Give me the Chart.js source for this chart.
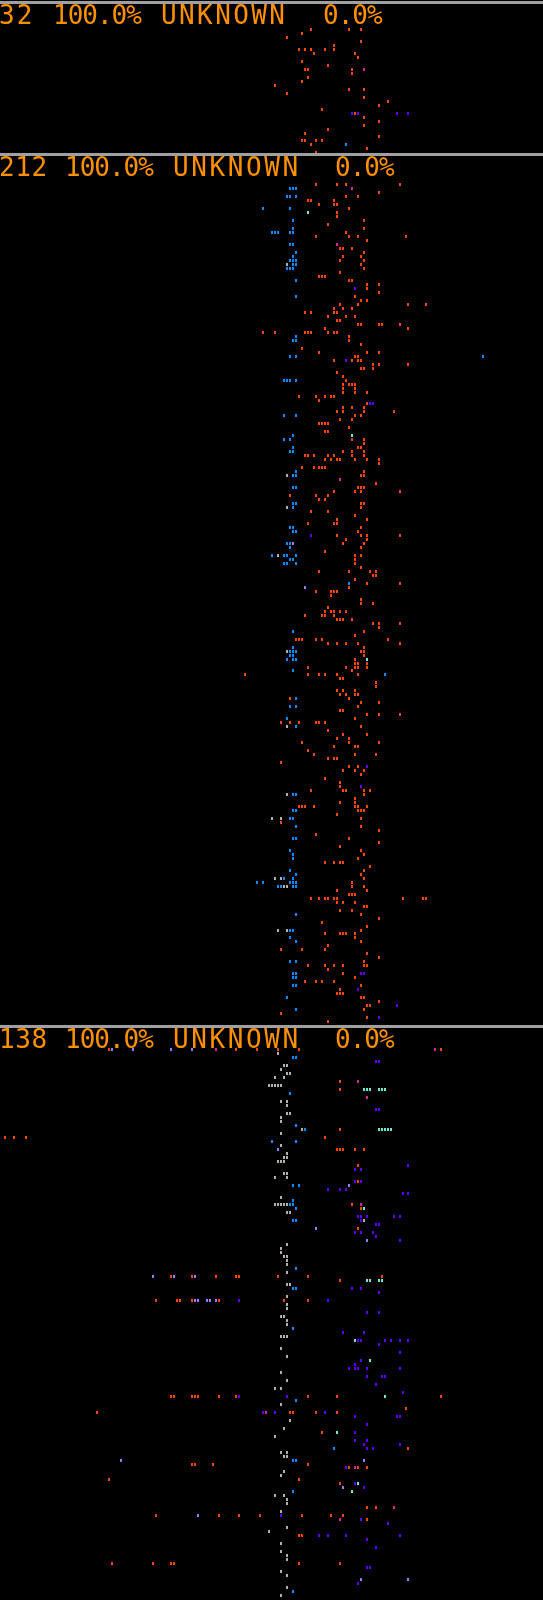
<!DOCTYPE html>
<html>
<head>
<meta charset="utf-8">
<script src="https://cdn.jsdelivr.net/npm/chart.js@4.4.1/dist/chart.umd.min.js"></script>
<style>
  html, body { margin: 0; padding: 0; background: #000; }
  #wrap { position: relative; width: 543px; height: 1600px; overflow: hidden; background: #000; }
  #dots { position: absolute; left: 0; top: 0; }
  .rule { position: absolute; left: 0; width: 543px; height: 3px; background: #a0a0a0; }
  .hdr { position: absolute; font-family: "DejaVu Sans Mono", monospace; font-size: 26px;
         line-height: 26px; color: #ff9100; white-space: pre; }
</style>
</head>
<body>
<div id="wrap">
  <canvas id="dots" width="543" height="1600"></canvas>
</div>
<script>
// grid: one cell = 3px wide, 4px tall; every dot is [column, row]
const panelRows = [0, 38, 256];          // rows holding the gray separator lines
const panelCounts = ["32", "212", "138"];
const panelShares = ["100.0%", "100.0%", "100.0%"];
const panelLabels = ["UNKNOWN", "UNKNOWN", "UNKNOWN"];
const panelRest = ["0.0%", "0.0%", "0.0%"];

const orangeDots = [
  // panel 1
  [103,6],[116,6],[120,6],[100,7],[95,8],[120,9],[111,10],[99,11],[101,11],[103,11],[108,11],[111,11],
  [104,12],[118,12],[119,13],[100,14],[109,15],[101,16],[102,16],[117,16],[117,17],[102,18],[100,19],
  [91,20],[116,21],[121,21],[95,22],[121,23],[129,24],[126,25],[107,26],[118,27],[121,28],[126,29],
  [121,30],[109,31],[101,32],[126,33],[100,34],[101,34],[105,34],[107,34],[103,35],[122,36],[105,37],
  // panel 2
  [105,45],[112,45],[115,45],[133,45],[126,47],[115,48],[119,48],[102,49],[103,49],[111,49],[106,50],
  [111,50],[112,50],[116,51],[112,52],[112,53],[121,54],[109,55],[121,56],[115,57],[105,58],[116,58],
  [119,58],[135,58],[122,59],[113,61],[114,61],[117,61],[121,62],[114,63],[120,63],[113,64],[121,64],
  [120,65],[121,66],[113,67],[106,68],[107,68],[108,68],[116,69],[117,69],[122,70],[126,70],[122,71],
  [126,72],[118,73],[120,74],[122,74],[113,75],[119,75],[136,75],[142,75],[111,76],[114,76],[117,76],
  [101,77],[103,77],[111,77],[112,77],[109,78],[115,78],[118,78],[112,79],[113,79],[119,80],[120,80],
  [126,80],[127,80],[133,80],[108,81],[136,81],[87,82],[91,82],[101,82],[102,82],[103,82],[109,82],
  [111,82],[112,82],[116,83],[116,84],[120,85],
  [100,86],[106,87],[122,87],[126,87],[118,88],[119,88],[111,89],[117,89],[119,89],[120,89],[124,90],
  [126,90],[136,90],[120,91],[121,91],[124,91],[112,92],[114,93],[115,94],[114,95],[116,95],[117,95],
  [118,95],[114,96],[118,96],[114,97],[118,97],[122,97],[99,98],[105,98],[108,98],[110,98],[111,98],
  [106,99],[122,100],[114,101],[117,101],[121,101],[112,102],[114,102],[121,102],[131,102],[118,103],
  [120,103],[113,104],[117,104],[106,105],[107,105],[108,105],[109,105],[116,106],[108,107],[109,107],
  [117,109],[121,109],[121,110],[119,111],[120,111],[114,112],[117,112],[121,112],
  [101,113],[102,113],[104,113],[109,113],[111,113],[117,113],[121,113],[108,114],[110,114],[112,114],
  [113,114],[118,114],[122,114],[126,114],[126,115],[100,116],[104,116],[106,116],[107,116],[108,116],
  [121,117],[120,118],[121,118],[125,120],[119,121],[120,121],[121,121],[111,122],[118,122],[120,122],
  [133,122],[96,123],[105,123],[109,123],[106,124],[108,124],[120,125],[121,125],[120,126],[103,127],
  [109,127],[118,128],[112,129],[122,129],[102,130],[111,130],[112,130],[120,131],[119,132],[112,133],
  [120,133],[122,133],[133,133],[115,134],[122,134],[114,135],[121,135],[120,136],[108,137],[118,138],
  [120,138],[118,139],[118,140],[120,141],[106,142],[116,142],[123,142],[125,142],[124,143],[125,143],
  [118,144],[122,145],[133,145],[116,146],[105,147],[110,147],[111,147],[112,147],[110,148],[120,149],
  [120,150],[124,150],[109,151],[108,152],[110,152],[111,152],[113,152],[115,152],[101,153],[107,153],
  [108,153],[111,153],[112,154],[113,154],[114,154],[117,154],[124,155],[126,155],[133,155],[126,156],
  [121,157],[118,158],[98,159],[99,159],[100,159],[105,159],[107,159],[129,159],[109,160],[112,160],
  [115,160],[119,160],[133,160],[121,161],[120,162],[121,162],[121,163],[118,164],[118,165],[119,165],
  [122,165],[102,166],[115,166],[118,166],[119,166],[122,166],[117,167],[81,168],[102,168],[106,168],
  [108,168],[112,168],[119,168],[113,169],[114,169],[125,170],[125,171],[112,172],[114,172],[118,172],
  [113,173],[115,173],[118,173],[119,173],[96,174],[116,174],[120,175],[126,175],[119,176],[113,177],
  [114,177],[122,178],[126,178],[133,178],[118,179],[93,180],[96,180],[99,180],[105,180],[106,180],
  [108,180],[120,181],[109,182],
  [114,183],[122,183],[112,184],[116,184],[100,185],[116,185],[126,185],[111,186],[118,186],[119,186],
  [102,187],[104,188],[118,188],[125,188],[109,189],[111,189],[112,189],[93,190],[116,191],[119,191],
  [114,192],[118,192],[121,192],[120,193],[108,194],[113,195],[113,196],[103,197],[114,197],[115,197],
  [121,197],[123,197],[121,198],[118,199],[113,200],[118,200],[99,201],[100,201],[101,201],[104,201],
  [118,201],[119,201],[122,201],[119,202],[120,202],[121,202],[112,203],[120,204],[93,205],[120,206],
  [126,207],[105,208],[116,209],[126,210],[113,211],[120,212],[121,213],[119,214],[108,215],[111,215],
  [113,215],[114,215],[123,216],[121,217],[120,218],[121,219],[117,220],[117,221],[121,221],[112,222],
  [122,222],[116,223],[117,223],[118,223],[103,224],[106,224],[108,224],[109,224],[111,224],[112,224],
  [134,224],[141,224],[142,224],[112,225],[114,225],[118,225],[121,226],[122,226],[113,227],[117,227],
  [120,228],[126,229],[107,230],[122,231],[120,232],[108,233],[113,233],[114,233],[115,233],[118,233],
  [118,234],[120,235],[109,236],[93,237],[100,237],[108,237],[122,238],[126,239],[121,240],[102,241],
  [108,241],[111,241],[114,241],[121,241],[122,241],[109,242],[114,243],[118,244],[101,245],[105,245],
  [107,245],[111,245],[120,246],[113,247],[112,248],[113,248],[114,248],[120,249],[121,249],[126,250],
  [122,251],[123,251],[121,252],[93,253],[122,254],[109,255],
  // panel 3
  [35,262],[78,262],[85,262],[92,262],[99,262],[147,262],[113,270],[113,272],[113,282],[0,284],[3,284],
  [7,284],[108,284],[112,287],[113,287],[114,287],[118,287],[121,287],[119,291],[119,295],[117,301],
  [120,302],[119,307],[56,319],[63,319],[71,319],[78,319],[79,319],[92,319],[102,319],[127,319],
  [113,320],[51,325],[58,325],[59,325],[63,325],[72,325],[94,325],[102,325],[56,349],[57,349],[63,349],
  [64,349],[65,349],[72,349],[78,349],[102,349],[112,349],[147,349],[135,352],[31,353],[96,353],
  [97,353],[105,353],[112,353],[107,358],[136,362],[63,366],[64,366],[70,366],[102,366],[116,367],
  [119,367],[122,367],[35,370],[99,370],[113,371],[122,377],[125,377],[51,379],[72,379],[79,379],
  [86,379],[100,379],[110,379],[114,379],[122,380],[99,384],[100,384],[36,391],[50,391],[56,391],
  [57,391],[99,391],[113,391]
];

const blueDots = [
  [115,35],
  [96,46],[97,46],[98,46],[95,48],[96,48],[98,48],[87,51],[96,51],[97,54],[97,56],[90,57],[91,57],
  [92,57],[96,57],[97,57],[96,60],[97,60],[98,62],[97,63],[96,64],[97,64],[98,64],[97,65],[98,65],
  [95,66],[96,66],[97,66],[98,69],[98,73],[98,83],[97,84],[98,84],
  [96,88],[98,88],[161,88],[94,94],[95,94],[96,94],[98,94],[94,103],[98,103],[97,108],[94,109],
  [96,109],[97,111],[96,112],[97,112],
  [98,117],[97,118],[98,118],[97,121],[98,121],[97,125],[98,125],[97,126],[96,131],[97,131],[97,132],
  [98,132],[95,135],[96,135],[96,136],[90,138],[94,138],[95,138],[98,138],[96,139],[97,139],[94,140],
  [95,140],[98,140],[116,145],[97,157],[97,161],[96,162],[97,162],[98,162],[96,163],[97,163],[95,164],
  [97,164],[98,164],[97,167],[128,168],[98,174],[96,176],[98,176],[95,179],[98,181],
  [97,198],[98,198],[97,202],[98,202],[96,204],[97,204],[98,206],[97,209],[98,209],[96,212],[97,213],
  [97,214],[96,217],[98,218],[94,219],[97,219],[85,220],[87,220],[96,220],[97,220],[98,220],[92,221],
  [93,221],[97,221],[98,221],[98,228],[96,232],[97,232],[96,234],[98,235],[96,240],[98,240],[97,243],
  [98,243],[97,244],[98,244],[97,246],[98,246],[95,249],[98,252],
  [97,264],[98,264],[96,273],[98,281],[101,282],[90,285],[98,285],[97,296],[99,296],[97,300],[96,301],
  [97,301],[98,302],[97,305],[98,305],[98,317],[97,322],[98,322],[97,332],[98,350],[111,362],[97,365],
  [98,365],[97,373],[97,398]
];

const purpleDots = [
  [117,27],[119,27],[132,27],[136,27],[118,71],[115,89],[123,100],[124,100],[103,133],[122,191],
  [120,196],[120,243],[121,243],[119,247],[132,251],[126,254],
  [125,265],[126,265],[125,277],[126,277],[136,291],[118,292],[120,292],[118,295],[120,295],[109,297],
  [113,297],[115,297],[134,298],[136,298],[119,304],[120,304],[122,304],[131,304],[133,304],[120,305],
  [125,306],[126,306],[118,308],[120,308],[124,308],[125,309],[133,310],[117,322],[120,322],[126,323],
  [79,325],[109,325],[122,328],[126,328],[114,333],[121,333],[119,335],[120,335],[128,335],[130,335],
  [133,335],[136,335],[126,336],[133,338],[120,340],[118,341],[116,342],[118,342],[119,342],[122,342],
  [133,342],[122,344],[127,344],[128,344],[125,346],[134,348],[79,349],[95,349],[87,353],[91,353],
  [108,353],[118,354],[132,354],[133,354],[122,356],[118,358],[118,360],[122,360],[121,361],[133,361],
  [122,362],[124,362],[115,367],[118,371],[121,372],[120,380],[129,381],[93,379],[106,384],[109,384],
  [115,384],[133,384],[122,385],[125,387],[122,392],[123,392],[119,396]
];

const grayDots = [
  [95,65],[95,118],[95,126],[92,138],[95,162],[95,181],[95,198],[90,204],[93,204],[91,219],[93,219],
  [94,221],[95,221],[92,232],[95,232],
  [92,263],[94,266],[95,266],[93,267],[95,268],[96,268],[91,269],[94,269],[89,271],[90,271],[91,271],
  [92,271],[93,271],[93,275],[95,275],[95,276],[95,278],[96,278],[93,279],[93,280],[100,282],[93,283],
  [93,286],[95,288],[94,289],[95,289],[92,290],[93,290],[94,290],[94,293],[95,293],[91,294],[95,294],
  [93,299],[91,301],[92,301],[93,301],[94,301],[95,301],[95,303],[96,303],[121,305],[95,311],[93,312],
  [93,313],[94,314],[95,314],[95,315],[95,316],[95,318],[95,321],[96,321],[95,324],[95,326],[95,327],
  [93,329],[94,329],[95,330],[95,331],[93,334],[94,334],[95,334],[93,337],[95,339],[93,343],[95,345],
  [91,347],[93,347],[93,351],[96,355],[94,357],[91,359],[93,363],[95,363],[94,364],[95,364],[94,368],
  [93,369],[91,374],[94,374],[95,375],[95,376],[93,378],[95,382],[89,383],[93,386],[93,388],[95,389],
  [95,390],[93,393],[95,394],[95,397],[93,399]
];

const cyanDots = [
  [102,52],[117,108],[122,164],[121,272],[122,272],[123,272],[126,272],[127,272],[128,272],[126,282],
  [127,282],[128,282],[129,282],[130,282],[121,302],[122,320],[123,320],[126,320],[127,320],[118,335],
  [123,340],[128,349],[112,358],[119,371],[117,373]
];

const lavenderDots = [
  [97,135],[101,146],[36,262],[43,262],[56,262],[63,262],[92,287],[116,296],[105,307],[122,310],
  [50,319],[57,319],[64,319],[64,325],[65,325],[68,325],[69,325],[71,325],[39,365],[121,365],
  [114,372],[65,379],[120,395],[136,395]
];

const magentaDots = [
  [121,16],[117,46],[112,60],[113,119],[71,262],[145,262],[119,270],[122,274],[120,301],[88,353],
  [118,367],[131,377],[113,380]
];

// a dot is a 2x3 block, drawn as a tiny canvas image
function dotImage(color) {
  const c = document.createElement("canvas");
  c.width = 2;
  c.height = 3;
  const g = c.getContext("2d");
  g.fillStyle = color;
  g.fillRect(0, 0, 2, 3);
  return c;
}

function series(points, color) {
  return {
    data: points.map(p => ({ x: p[0], y: p[1] })),
    pointStyle: dotImage(color),
    pointRadius: 2,
    pointHoverRadius: 2,
    showLine: false,
    clip: false
  };
}

// gray separators and the header line of each panel
const wrap = document.getElementById("wrap");
const headerCols = [
  { left: [-1, 53, 161, 323], spacing: [2, -1, 2.4, -1] },
  { left: [-1, 65, 173, 335], spacing: [0.6, -1, 2.6, -1] },
  { left: [-1, 65, 173, 335], spacing: [0.6, -1, 2.6, -1] }
];
for (let i = 0; i < panelRows.length; i++) {
  const rule = document.createElement("div");
  rule.className = "rule";
  rule.style.top = (panelRows[i] * 4 + 1) + "px";
  wrap.appendChild(rule);

  const words = [panelCounts[i], panelShares[i], panelLabels[i], panelRest[i]];
  words.forEach((w, j) => {
    const s = document.createElement("span");
    s.className = "hdr";
    s.textContent = w;
    s.style.left = headerCols[i].left[j] + "px";
    s.style.top = (panelRows[i] * 4 + 2) + "px";
    s.style.letterSpacing = headerCols[i].spacing[j] + "px";
    wrap.appendChild(s);
  });
}

new Chart(document.getElementById("dots"), {
  type: "scatter",
  data: {
    datasets: [
      series(grayDots, "#b4b0a8"),
      series(blueDots, "#0a8cff"),
      series(orangeDots, "#ff4500"),
      series(purpleDots, "#6200ff"),
      series(lavenderDots, "#9a78ff"),
      series(cyanDots, "#6ee6d8"),
      series(magentaDots, "#e0209a")
    ]
  },
  options: {
    responsive: false,
    animation: false,
    devicePixelRatio: 1,
    layout: { padding: 0 },
    events: [],
    plugins: { legend: { display: false }, tooltip: { enabled: false } },
    scales: {
      x: { type: "linear", display: false, min: -2 / 3, max: 181 - 2 / 3 },
      y: { type: "linear", display: false, reverse: true, min: -0.625, max: 399.375 }
    }
  }
});
</script>
</body>
</html>
